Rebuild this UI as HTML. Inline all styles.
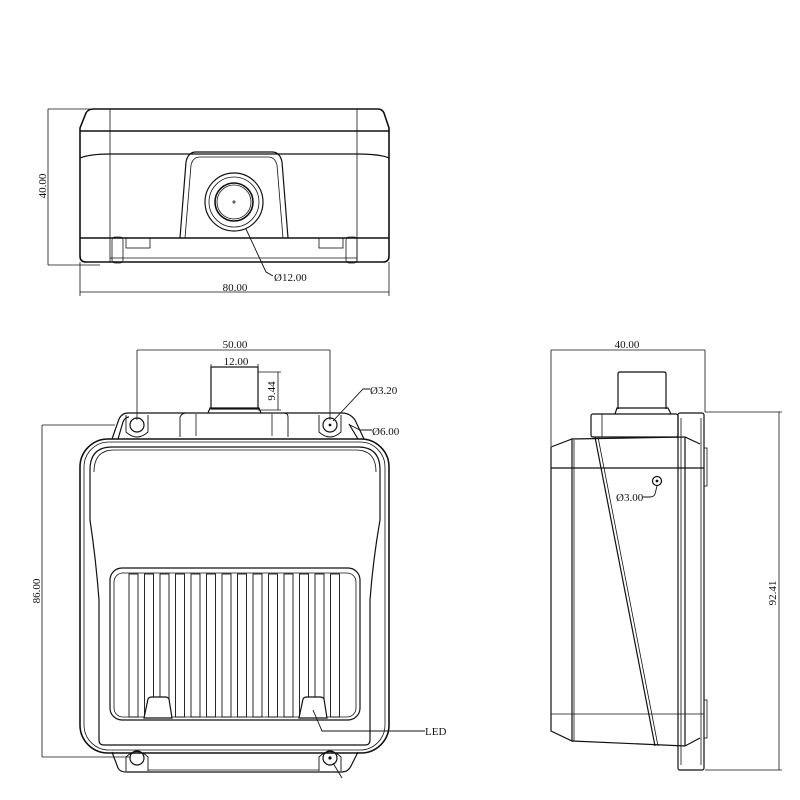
<!DOCTYPE html>
<html><head><meta charset="utf-8"><style>html,body{margin:0;padding:0;background:#fff}svg{display:block}</style></head>
<body>
<svg width="800" height="800" viewBox="0 0 800 800" xmlns="http://www.w3.org/2000/svg" font-family="Liberation Serif, serif" font-size="11" fill="none" stroke="#111" stroke-width="1.2">
<!-- TOP VIEW -->
<g>
<path d="M94,109 L378,109 Q382,109 384,113 L389,128 L389,256 Q389,262 383,262 L86,262 Q80,262 80,256 L80,128 L86,113 Q88,109 94,109 Z" stroke-width="1.6"/>
<line x1="80" y1="131" x2="389" y2="131" stroke-width="1.6"/>
<path d="M80,158 Q90,154 110,154 L357,154 Q380,154 389,158" />
<line x1="110" y1="109" x2="110" y2="262" stroke-width="0.8"/>
<line x1="357" y1="109" x2="357" y2="262" stroke-width="0.8"/>
<path d="M180,238 L186,162 Q188,152 196,152 L272,152 Q280,152 282,162 L288,238"/>
<path d="M185,238 L191,165 Q193,157 200,157 L268,157 Q275,157 277,165 L283,238" stroke-width="0.8"/>
<line x1="80" y1="238" x2="389" y2="238" stroke-width="1.4"/>
<rect x="112" y="237" width="11" height="26" rx="3" stroke-width="0.8"/>
<rect x="346" y="237" width="11" height="26" rx="3" stroke-width="0.8"/>
<rect x="126" y="238" width="24" height="10" stroke-width="0.8"/>
<rect x="319" y="238" width="24" height="10" stroke-width="0.8"/>
<line x1="110" y1="258" x2="357" y2="258" stroke-width="0.8"/>
<circle cx="234" cy="202" r="29"/>
<circle cx="234" cy="202" r="25" stroke-width="0.8"/>
<circle cx="234" cy="202" r="19" stroke-width="1.6"/>
<circle cx="234" cy="202" r="17" stroke-width="0.8"/>
<path d="M232,202h4M234,200v4" stroke-width="0.8"/>
<path d="M246,229 L266,272 L273,276" stroke-width="0.9"/>
<text x="274" y="281" fill="#111" stroke="none">Ø12.00</text>
<g stroke-width="0.8">
<line x1="48" y1="109" x2="90" y2="109"/>
<line x1="48" y1="265" x2="100" y2="265"/>
<line x1="48" y1="109" x2="48" y2="265"/>
<line x1="80" y1="262" x2="80" y2="296"/>
<line x1="389" y1="262" x2="389" y2="296"/>
<line x1="80" y1="292" x2="389" y2="292"/>
</g>
<text fill="#111" stroke="none" transform="translate(46,186) rotate(-90)" text-anchor="middle">40.00</text>
<text x="235" y="291" fill="#111" stroke="none" text-anchor="middle">80.00</text>
</g>

<!-- FRONT VIEW -->
<g>
<g stroke-width="0.8">
<line x1="137" y1="350" x2="330" y2="350"/>
<line x1="137" y1="350" x2="137" y2="420"/>
<line x1="330" y1="350" x2="330" y2="420"/>
<line x1="211" y1="367" x2="258" y2="367"/>
<line x1="211" y1="364" x2="211" y2="370"/>
<line x1="258" y1="364" x2="258" y2="370"/>
<line x1="258" y1="372" x2="281" y2="372"/>
<line x1="258" y1="410" x2="281" y2="410"/>
<line x1="278" y1="372" x2="278" y2="410"/>
<line x1="42" y1="425" x2="115" y2="425"/>
<line x1="42" y1="757" x2="130" y2="757"/>
<line x1="42" y1="425" x2="42" y2="757"/>
</g>
<text x="235" y="348" fill="#111" stroke="none" text-anchor="middle">50.00</text>
<text x="236" y="365" fill="#111" stroke="none" text-anchor="middle">12.00</text>
<text fill="#111" stroke="none" transform="translate(275,391) rotate(-90)" text-anchor="middle">9.44</text>
<text fill="#111" stroke="none" transform="translate(40,591) rotate(-90)" text-anchor="middle">86.00</text>
<rect x="211" y="367" width="47" height="42"/>
<path d="M208,413 L210,408 L259,408 L261,413"/>
<path d="M112,439 L119,419 Q122,413 128,413 L342,413 Q350,413 355,420 L364,439"/>
<path d="M118,439 L123,422 Q125,417 129,417"/>
<path d="M349,424 L358,439"/>
<path d="M180,437 L180,417 Q182,413 186,413 L284,413 Q288,413 288,417 L288,437" stroke-width="0.9"/>
<line x1="196" y1="414" x2="196" y2="436" stroke-width="0.8"/>
<line x1="272" y1="414" x2="272" y2="436" stroke-width="0.8"/>
<path d="M126,415 L126,432 Q137,442 148,432 L148,415" stroke-width="0.9"/>
<path d="M319,415 L319,432 Q330,442 341,432 L341,415" stroke-width="0.9"/>
<circle cx="137" cy="425" r="7"/>
<circle cx="330" cy="425" r="7"/>
<circle cx="330" cy="425" r="0.8" fill="#111"/>
<path d="M333,421 L363,389 L370,389" stroke-width="0.9"/>
<text x="370" y="394" fill="#111" stroke="none">Ø3.20</text>
<path d="M350,425 L360,430 L372,430" stroke-width="0.9"/>
<text x="372" y="435" fill="#111" stroke="none">Ø6.00</text>
<rect x="80" y="439" width="309" height="314" rx="28" stroke-width="1.6"/>
<rect x="84" y="442" width="301" height="308" rx="25" stroke-width="0.8"/>
<path d="M90,470 Q90,447 112,447 L358,447 Q380,447 380,470 L380,520 Q373,560 370,600 L370,740 Q370,745 365,745 L104,745 Q99,745 99,740 L99,600 Q96,560 90,520 Z" stroke-width="1.2"/>
<path d="M94,472 Q94,450 114,450 L356,450 Q376,450 376,472" stroke-width="0.8"/>
<rect x="110" y="568" width="250" height="152" rx="12" stroke-width="1.2"/>
<rect x="114" y="573" width="242" height="144" rx="9" stroke-width="0.8"/>
<g stroke-width="0.9">
<rect x="129" y="574" width="9" height="143"/><rect x="144.5" y="574" width="9" height="143"/><rect x="160" y="574" width="9" height="143"/><rect x="175.5" y="574" width="9" height="143"/><rect x="191" y="574" width="9" height="143"/><rect x="206.5" y="574" width="9" height="143"/><rect x="222" y="574" width="9" height="143"/><rect x="237.5" y="574" width="9" height="143"/><rect x="253" y="574" width="9" height="143"/><rect x="268.5" y="574" width="9" height="143"/><rect x="284" y="574" width="9" height="143"/><rect x="299.5" y="574" width="9" height="143"/><rect x="315" y="574" width="9" height="143"/><rect x="330.5" y="574" width="9" height="143"/>
</g>
<path d="M144,718 L148,699 Q149,697 152,697 L165,697 Q168,697 169,699 L172,718 Z" fill="#fff" stroke-width="1.2"/>
<path d="M299,718 L303,699 Q304,697 307,697 L320,697 Q323,697 324,699 L327,718 Z" fill="#fff" stroke-width="1.2"/>
<path d="M313,710 L322,731 L425,731" stroke-width="0.9"/>
<text x="425" y="735" fill="#111" stroke="none">LED</text>
<path d="M112,752 L118,768 Q120,772 126,772 L342,772 Q348,772 351,766 L358,752"/>
<line x1="148" y1="770" x2="319" y2="770" stroke-width="0.8"/>
<path d="M126,771 L126,757 Q137,746 148,757 L148,771" stroke-width="0.9"/>
<path d="M319,771 L319,757 Q330,746 341,757 L341,771" stroke-width="0.9"/>
<circle cx="137" cy="758" r="7"/>
<circle cx="330" cy="758" r="7"/>
<circle cx="330" cy="758" r="1" fill="#111"/>
<line x1="333" y1="763" x2="342" y2="778" stroke-width="0.9"/>
</g>

<!-- SIDE VIEW -->
<g>
<g stroke-width="0.8">
<line x1="551" y1="350" x2="705" y2="350"/>
<line x1="551" y1="350" x2="551" y2="446"/>
<line x1="705" y1="350" x2="705" y2="412"/>
<line x1="705" y1="412" x2="782" y2="412"/>
<line x1="705" y1="770" x2="782" y2="770"/>
<line x1="779" y1="412" x2="779" y2="770"/>
</g>
<text x="627" y="348" fill="#111" stroke="none" text-anchor="middle">40.00</text>
<text fill="#111" stroke="none" transform="translate(776,593) rotate(-90)" text-anchor="middle">92.41</text>
<path d="M618,409 L618,374 Q618,372 620,372 L664,372 Q666,372 666,374 L666,409"/>
<path d="M615,414 L617,408 L668,408 L671,414"/>
<rect x="591" y="414" width="87" height="23" rx="2"/>
<line x1="602" y1="414" x2="602" y2="437" stroke-width="0.8"/>
<rect x="678" y="413" width="26" height="357" rx="2" stroke-width="1.2"/>
<line x1="681" y1="418" x2="681" y2="765" stroke-width="0.8"/>
<line x1="701" y1="418" x2="701" y2="765" stroke-width="0.8"/>
<path d="M572,439 L685,437 L700,444"/>
<path d="M551,447 L572,439 L572,741 L551,731 Z"/>
<line x1="572" y1="741" x2="685" y2="746"/>
<line x1="685" y1="437" x2="685" y2="746"/>
<line x1="551" y1="468" x2="704" y2="468" stroke-width="1.2"/>
<line x1="551" y1="714" x2="704" y2="714" stroke-width="0.8"/>
<line x1="574" y1="440" x2="574" y2="741" stroke-width="0.8"/>
<line x1="595" y1="437" x2="655" y2="746"/>
<line x1="598" y1="437" x2="658" y2="746" stroke-width="0.8"/>
<path d="M685,746 L700,738"/>
<rect x="704" y="448" width="3" height="38" stroke-width="0.8"/>
<rect x="704" y="700" width="3" height="38" stroke-width="0.8"/>
<circle cx="657" cy="481" r="4.5"/>
<circle cx="657" cy="481" r="0.8" fill="#111"/>
<path d="M657,486 L655,494 Q654,497 650,497 L643,497" stroke-width="0.9"/>
<text x="616" y="501" fill="#111" stroke="none">Ø3.00</text>
</g>
</svg>
</body></html>
